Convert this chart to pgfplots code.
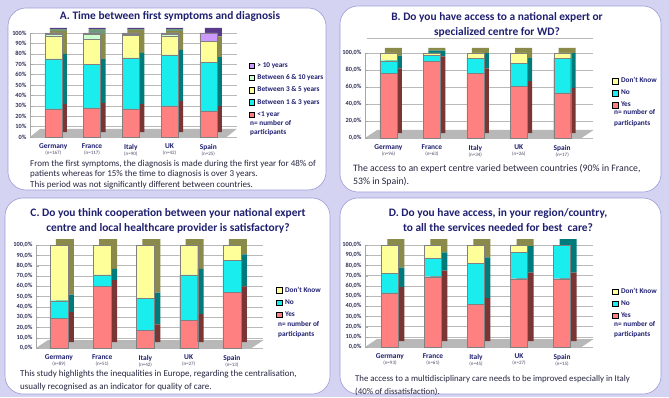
\documentclass[border=0pt]{standalone}
\usepackage{pgfplots}
\pgfplotsset{compat=1.18}
\usepackage{fontspec}
\setmainfont{Carlito}

\definecolor{bg}{HTML}{D4D4F2}
\definecolor{boxline}{HTML}{9A9AD8}
\definecolor{navy}{HTML}{1F1F70}
\definecolor{txt}{HTML}{262640}
\definecolor{tick}{HTML}{30305A}
\definecolor{ngray}{HTML}{4A4A6A}
\definecolor{floorc}{HTML}{B8B8B8}
\definecolor{cred}{HTML}{FF8080}
\definecolor{dred}{HTML}{7A3535}
\definecolor{ccyan}{HTML}{1AEDED}
\definecolor{dcyan}{HTML}{007A7A}
\definecolor{cyel}{HTML}{FFFF99}
\definecolor{dyel}{HTML}{8A8A4A}
\definecolor{cgrn}{HTML}{CCFFCC}
\definecolor{dgrn}{HTML}{6E9A7A}
\definecolor{cpur}{HTML}{CC99FF}
\definecolor{dpur}{HTML}{5A3A8A}

\pgfplotsset{
  sqleg/.style={legend image code/.code={\draw[##1,draw=black,line width=0.3pt] (0pt,-2.7pt) rectangle (5.4pt,2.7pt);}},
  gridax/.style={scale only axis, anchor=south west, clip=false, ymin=0, ymax=100,
    axis lines*=left, x axis line style={draw=none}, y axis line style={draw=gray!70},
    xtick={0,1,2,3,4}, xtick style={draw=none}, ytick style={draw=gray!70}, major tick length=3pt,
    ymajorgrids, grid style={draw=gray!55,line width=0.35pt},
    yticklabel style={font=\fontsize{6.3}{7}\selectfont\bfseries, text=tick},
    xticklabel style={align=center, yshift=-3.5pt, font=\fontsize{7.4}{7.4}\selectfont\bfseries, text=navy}},
  barax/.style={scale only axis, anchor=south west, clip=false, hide axis, ymin=0, ymax=100, ybar stacked, xtick=\empty},
  legax/.style={every axis plot post/.append style={sqleg}, reverse legend,
    legend style={draw=none, fill=none, anchor=north west, font=\fontsize{7.3}{8}\selectfont\bfseries, text=navy,
      legend cell align=left, row sep=3.8pt, inner sep=0pt, nodes={inner sep=1pt},
      /tikz/every odd column/.append style={column sep=2.2pt}}},
  fr/.style={fill=#1, draw=black!50, line width=0.2pt},
  bk/.style={fill=#1, draw=none},
}
\newcommand{\cty}[2]{\textbf{#1}\\[-1.5pt]{\fontsize{5}{5}\selectfont\mdseries\color{ngray}(n=#2)}}
\tikzset{leg/.style={anchor=base west, font=\fontsize{7.3}{8}\selectfont\bfseries, text=navy, inner sep=0pt},
  ttl/.style={anchor=base, font=\fontsize{11.4}{12}\selectfont\bfseries, text=navy, inner sep=0pt},
  body/.style={anchor=base west, font=\fontsize{#1}{10}\selectfont, text=txt, inner sep=0pt}}

\begin{document}
\begin{tikzpicture}
\fill[bg] (0pt,0pt) rectangle (669pt,397pt);
\useasboundingbox (0pt,0pt) rectangle (669pt,397pt);
% panel boxes
\filldraw[fill=white, draw=boxline, line width=0.6pt, rounded corners=18pt] (8pt,207pt) rectangle (326pt,389pt);
\filldraw[fill=white, draw=boxline, line width=0.6pt, rounded corners=18pt] (340pt,205pt) rectangle (661pt,391pt);
\filldraw[fill=white, draw=boxline, line width=0.6pt, rounded corners=18pt] (5pt,3pt) rectangle (330pt,199pt);
\filldraw[fill=white, draw=boxline, line width=0.6pt, rounded corners=18pt] (340pt,3pt) rectangle (661pt,199pt);

%================ A =================
\begin{axis}[gridax, at={(30pt,260pt)}, width=207pt, height=104pt, xmin=-0.6, xmax=4.74,
  ytick={0,10,...,100}, yticklabels={0\%,10\%,20\%,30\%,40\%,50\%,60\%,70\%,80\%,90\%,100\%},
  xticklabels={{\cty{Germany}{167}},{\cty{France}{117}},{\cty{Italy}{90}},{\cty{UK}{42}},{\cty{Spain}{25}}}]
\fill[floorc] (rel axis cs:0,0) -- (rel axis cs:0.95,0) -- ([xshift=10pt,yshift=8pt]rel axis cs:0.95,0) -- ([xshift=10pt,yshift=8pt]rel axis cs:0,0) -- cycle;
\end{axis}
\begin{axis}[barax, at={(35pt,265pt)}, width=207pt, height=104pt, xmin=-0.6, xmax=4.74, bar width=17pt]
\addplot[bk=dred] coordinates {(0,27) (1,28) (2,27) (3,30) (4,25)};
\addplot[bk=dcyan] coordinates {(0,48) (1,42) (2,49) (3,49) (4,47)};
\addplot[bk=dyel] coordinates {(0,22) (1,24) (2,22) (3,18) (4,20)};
\addplot[bk=dgrn] coordinates {(0,2) (1,5) (2,1) (3,2) (4,0)};
\addplot[bk=dpur] coordinates {(0,1) (1,1) (2,1) (3,1) (4,8)};
\end{axis}
\begin{axis}[barax, legax, at={(30pt,260pt)}, width=207pt, height=104pt, xmin=-0.6, xmax=4.74, bar width=17pt,
  legend style={at={(1.055,0.73)}}]
\addplot[fr=cred] coordinates {(0,27) (1,28) (2,27) (3,30) (4,25)};
\addlegendentry{<1 year}
\addplot[fr=ccyan] coordinates {(0,48) (1,42) (2,49) (3,49) (4,47)};
\addlegendentry{Between 1 \& 3 years}
\addplot[fr=cyel] coordinates {(0,22) (1,24) (2,22) (3,18) (4,20)};
\addlegendentry{Between 3 \& 5 years}
\addplot[fr=cgrn] coordinates {(0,2) (1,5) (2,1) (3,2) (4,0)};
\addlegendentry{Between 6 \& 10 years}
\addplot[fr=cpur] coordinates {(0,1) (1,1) (2,1) (3,1) (4,8)};
\addlegendentry{> 10 years}
\end{axis}
\node[leg] at (250pt,272pt) {n= number of};
\node[leg] at (250pt,262pt) {participants};
\node[ttl] at (170pt,377pt) {A. Time between first symptoms and diagnosis};
\node[body=9] at (30pt,231pt) {From the first symptoms, the diagnosis is made during the first year for 48\% of};
\node[body=9] at (30pt,221pt) {patients whereas for 15\% the time to diagnosis is over 3 years.};
\node[body=9] at (30pt,210pt) {This period was not significantly different between countries.};

%================ B =================
\begin{axis}[gridax, at={(365pt,259pt)}, width=228pt, height=85pt, xmin=-0.54, xmax=4.71,
  ytick={0,20,...,100}, yticklabels={{0,0\%},{20,0\%},{40,0\%},{60,0\%},{80,0\%},{100,0\%}},
  xticklabels={{\cty{Germany}{96}},{\cty{France}{63}},{\cty{Italy}{34}},{\cty{UK}{26}},{\cty{Spain}{17}}}]
\fill[floorc] (rel axis cs:0,0) -- (rel axis cs:0.95,0) -- ([xshift=12pt,yshift=8pt]rel axis cs:0.95,0) -- ([xshift=12pt,yshift=8pt]rel axis cs:0,0) -- cycle;
\draw[gray!55, line width=0.35pt] ([xshift=2pt]axis cs:-0.54,117) -- (axis cs:4.71,117);
\end{axis}
\begin{axis}[barax, at={(370pt,264pt)}, width=228pt, height=85pt, xmin=-0.54, xmax=4.71, bar width=17pt]
\addplot[bk=dred] coordinates {(0,76) (1,90) (2,76) (3,61) (4,53)};
\addplot[bk=dcyan] coordinates {(0,15) (1,7) (2,18) (3,27) (4,41)};
\addplot[bk=dyel] coordinates {(0,9) (1,3) (2,6) (3,12) (4,6)};
\end{axis}
\begin{axis}[barax, legax, at={(365pt,259pt)}, width=228pt, height=85pt, xmin=-0.54, xmax=4.71, bar width=17pt,
  legend style={at={(1.083,0.725)}}]
\addplot[fr=cred] coordinates {(0,76) (1,90) (2,76) (3,61) (4,53)};
\addlegendentry{Yes}
\addplot[fr=ccyan] coordinates {(0,15) (1,7) (2,18) (3,27) (4,41)};
\addlegendentry{No}
\addplot[fr=cyel] coordinates {(0,9) (1,3) (2,6) (3,12) (4,6)};
\addlegendentry{Don't Know}
\end{axis}
\node[leg] at (614pt,282pt) {n= number of};
\node[leg] at (614pt,272pt) {participants};
\node[ttl] at (497pt,376pt) {B. Do you have access to a national expert or};
\node[ttl] at (497pt,361pt) {specialized centre for WD?};
\node[body=9.8] at (353pt,226pt) {The access to an expert centre varied between countries (90\% in France,};
\node[body=9.8] at (353pt,213pt) {53\% in Spain).};

%================ C =================
\begin{axis}[gridax, at={(36pt,49pt)}, width=227pt, height=103pt, xmin=-0.53, xmax=4.72,
  ytick={0,10,...,100}, yticklabels={{0,0\%},{10,0\%},{20,0\%},{30,0\%},{40,0\%},{50,0\%},{60,0\%},{70,0\%},{80,0\%},{90,0\%},{100,0\%}},
  xticklabels={{\cty{Germany}{89}},{\cty{France}{51}},{\cty{Italy}{42}},{\cty{UK}{27}},{\cty{Spain}{13}}}]
\fill[floorc] (rel axis cs:0,0) -- (rel axis cs:0.95,0) -- ([xshift=12pt,yshift=8pt]rel axis cs:0.95,0) -- ([xshift=12pt,yshift=8pt]rel axis cs:0,0) -- cycle;
\end{axis}
\begin{axis}[barax, at={(42pt,55pt)}, width=227pt, height=103pt, xmin=-0.53, xmax=4.72, bar width=18pt]
\addplot[bk=dred] coordinates {(0,29) (1,60) (2,17) (3,27) (4,54)};
\addplot[bk=dcyan] coordinates {(0,17) (1,11) (2,31) (3,44) (4,31)};
\addplot[bk=dyel] coordinates {(0,54) (1,29) (2,52) (3,29) (4,15)};
\end{axis}
\begin{axis}[barax, legax, at={(36pt,49pt)}, width=227pt, height=103pt, xmin=-0.53, xmax=4.72, bar width=18pt,
  legend style={at={(1.057,0.605)}}]
\addplot[fr=cred] coordinates {(0,29) (1,60) (2,17) (3,27) (4,54)};
\addlegendentry{Yes}
\addplot[fr=ccyan] coordinates {(0,17) (1,11) (2,31) (3,44) (4,31)};
\addlegendentry{No}
\addplot[fr=cyel] coordinates {(0,54) (1,29) (2,52) (3,29) (4,15)};
\addlegendentry{Don't Know}
\end{axis}
\node[leg] at (278pt,71pt) {n= number of};
\node[leg] at (278pt,61pt) {participants};
\node[ttl] at (168pt,181pt) {C. Do you think cooperation between your national expert};
\node[ttl] at (168pt,166pt) {centre and local healthcare provider is satisfactory?};
\node[body=9] at (20pt,21pt) {This study highlights the inequalities in Europe, regarding the centralisation,};
\node[body=9] at (20pt,8pt) {usually recognised as an indicator for quality of care.};

%================ D =================
\begin{axis}[gridax, at={(365pt,50pt)}, width=228pt, height=102pt, xmin=-0.58, xmax=4.72,
  ytick={0,10,...,100}, yticklabels={{0,0\%},{10,0\%},{20,0\%},{30,0\%},{40,0\%},{50,0\%},{60,0\%},{70,0\%},{80,0\%},{90,0\%},{100,0\%}},
  xticklabels={{\cty{Germany}{93}},{\cty{France}{61}},{\cty{Italy}{45}},{\cty{UK}{27}},{\cty{Spain}{15}}}]
\fill[floorc] (rel axis cs:0,0) -- (rel axis cs:0.95,0) -- ([xshift=12pt,yshift=8pt]rel axis cs:0.95,0) -- ([xshift=12pt,yshift=8pt]rel axis cs:0,0) -- cycle;
\end{axis}
\begin{axis}[barax, at={(371pt,56pt)}, width=228pt, height=102pt, xmin=-0.58, xmax=4.72, bar width=17pt]
\addplot[bk=dred] coordinates {(0,53) (1,69) (2,42) (3,67) (4,67)};
\addplot[bk=dcyan] coordinates {(0,19) (1,18) (2,40) (3,26) (4,33)};
\addplot[bk=dyel] coordinates {(0,28) (1,13) (2,18) (3,7) (4,0)};
\end{axis}
\begin{axis}[barax, legax, at={(365pt,50pt)}, width=228pt, height=102pt, xmin=-0.58, xmax=4.72, bar width=17pt,
  legend style={at={(1.083,0.59)}}]
\addplot[fr=cred] coordinates {(0,53) (1,69) (2,42) (3,67) (4,67)};
\addlegendentry{Yes}
\addplot[fr=ccyan] coordinates {(0,19) (1,18) (2,40) (3,26) (4,33)};
\addlegendentry{No}
\addplot[fr=cyel] coordinates {(0,28) (1,13) (2,18) (3,7) (4,0)};
\addlegendentry{Don't Know}
\end{axis}
\node[leg] at (614pt,71pt) {n= number of};
\node[leg] at (614pt,61pt) {participants};
\node[ttl] at (498pt,181pt) {D. Do you have access, in your region/country,};
\node[ttl] at (498pt,166pt) {to all the services needed for best\ \ care?};
\node[body=8.8] at (355pt,16pt) {The access to a multidisciplinary care needs to be improved especially in Italy};
\node[body=8.8] at (355pt,3pt) {(40\% of dissatisfaction).};
\end{tikzpicture}
\end{document}
